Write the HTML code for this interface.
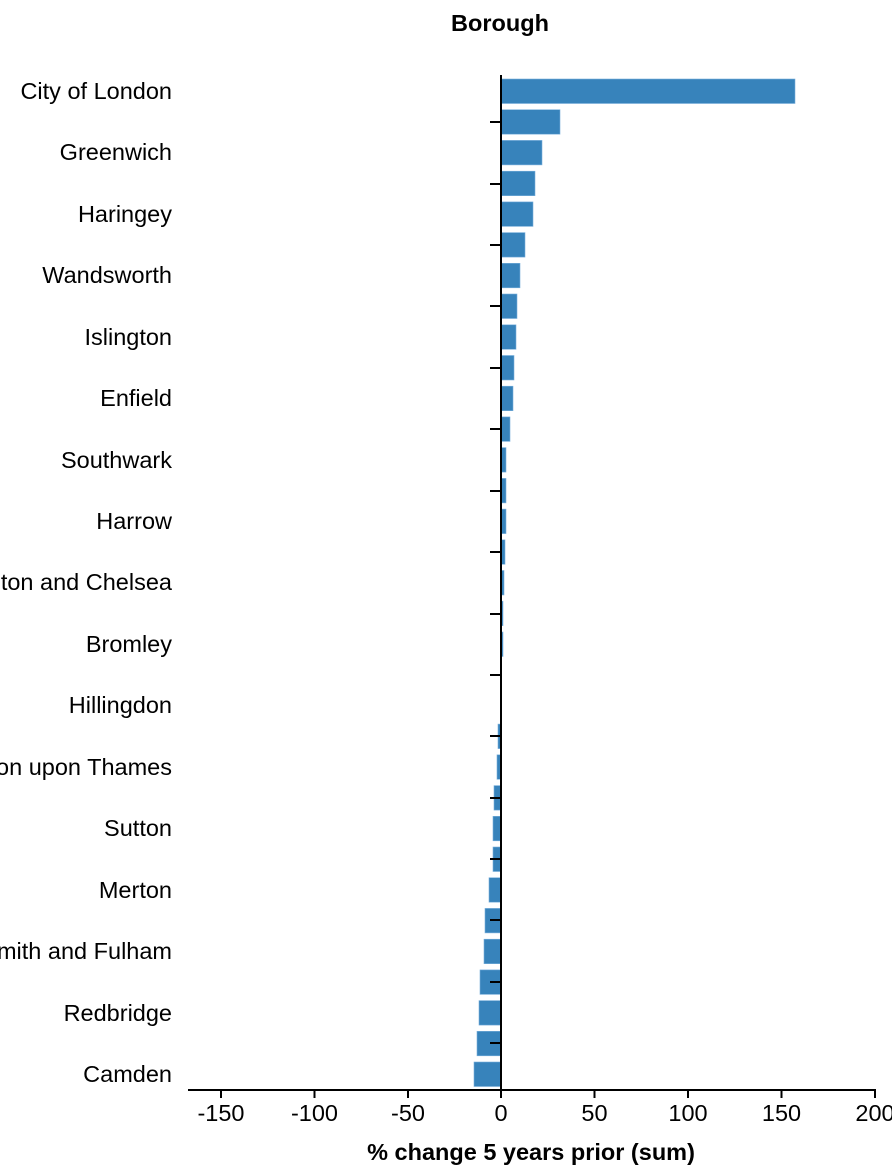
<!DOCTYPE html>
<html><head><meta charset="utf-8"><style>
html,body{margin:0;padding:0;background:#fff;}
svg{display:block;font-family:"Liberation Sans",Arial,sans-serif;}
</style></head><body>
<svg width="892" height="1172" xmlns="http://www.w3.org/2000/svg">
<text x="500" y="31" text-anchor="middle" font-size="23.5" font-weight="bold">Borough</text>
<g fill="#3783bb" stroke="#7ab0dc" stroke-width="0.6">
<rect x="501" y="79.0" width="294" height="24.5"/>
<rect x="501" y="109.7" width="59" height="24.5"/>
<rect x="501" y="140.4" width="41" height="24.5"/>
<rect x="501" y="171.2" width="34" height="24.5"/>
<rect x="501" y="201.9" width="32" height="24.5"/>
<rect x="501" y="232.6" width="24" height="24.5"/>
<rect x="501" y="263.3" width="19" height="24.5"/>
<rect x="501" y="294.0" width="16" height="24.5"/>
<rect x="501" y="324.8" width="15" height="24.5"/>
<rect x="501" y="355.5" width="13" height="24.5"/>
<rect x="501" y="386.2" width="12" height="24.5"/>
<rect x="501" y="416.9" width="9" height="24.5"/>
<rect x="501" y="447.6" width="5" height="24.5"/>
<rect x="501" y="478.4" width="5" height="24.5"/>
<rect x="501" y="509.1" width="5" height="24.5"/>
<rect x="501" y="539.8" width="4" height="24.5"/>
<rect x="501" y="570.5" width="3" height="24.5"/>
<rect x="501" y="601.2" width="2" height="24.5"/>
<rect x="501" y="632.0" width="2" height="24.5"/>
<rect x="498" y="724.1" width="3" height="24.5"/>
<rect x="497" y="754.8" width="4" height="24.5"/>
<rect x="494" y="785.6" width="7" height="24.5"/>
<rect x="493" y="816.3" width="8" height="24.5"/>
<rect x="493" y="847.0" width="8" height="24.5"/>
<rect x="489" y="877.7" width="12" height="24.5"/>
<rect x="485" y="908.4" width="16" height="24.5"/>
<rect x="484" y="939.2" width="17" height="24.5"/>
<rect x="480" y="969.9" width="21" height="24.5"/>
<rect x="479" y="1000.6" width="22" height="24.5"/>
<rect x="477" y="1031.3" width="24" height="24.5"/>
<rect x="474" y="1062.0" width="27" height="24.5"/>
</g>
<g stroke="#000" stroke-width="2">
<line x1="501" y1="75" x2="501" y2="1091"/>
<line x1="188" y1="1090" x2="876" y2="1090"/>
<line x1="490" y1="122" x2="501" y2="122"/><line x1="490" y1="184" x2="501" y2="184"/>
<line x1="490" y1="245" x2="501" y2="245"/><line x1="490" y1="306" x2="501" y2="306"/>
<line x1="490" y1="368" x2="501" y2="368"/><line x1="490" y1="429" x2="501" y2="429"/>
<line x1="490" y1="491" x2="501" y2="491"/><line x1="490" y1="552" x2="501" y2="552"/>
<line x1="490" y1="614" x2="501" y2="614"/><line x1="490" y1="675" x2="501" y2="675"/>
<line x1="490" y1="736" x2="501" y2="736"/><line x1="490" y1="798" x2="501" y2="798"/>
<line x1="490" y1="859" x2="501" y2="859"/><line x1="490" y1="920" x2="501" y2="920"/>
<line x1="490" y1="982" x2="501" y2="982"/><line x1="490" y1="1043" x2="501" y2="1043"/>
<line x1="221" y1="1090" x2="221" y2="1098"/><line x1="314.5" y1="1090" x2="314.5" y2="1098"/>
<line x1="408" y1="1090" x2="408" y2="1098"/><line x1="501" y1="1090" x2="501" y2="1098"/>
<line x1="594.5" y1="1090" x2="594.5" y2="1098"/><line x1="688" y1="1090" x2="688" y2="1098"/>
<line x1="781.5" y1="1090" x2="781.5" y2="1098"/><line x1="875" y1="1090" x2="875" y2="1098"/>
</g>
<g font-size="23.5" text-anchor="middle">
<text x="221" y="1121">-150</text><text x="314.5" y="1121">-100</text><text x="408" y="1121">-50</text>
<text x="501" y="1121">0</text><text x="594.5" y="1121">50</text><text x="688" y="1121">100</text>
<text x="781.5" y="1121">150</text><text x="875" y="1121">200</text>
</g>
<text x="531" y="1160" text-anchor="middle" font-size="23.5" font-weight="bold">% change 5 years prior (sum)</text>
<g font-size="23.5" text-anchor="end">
<text x="172" y="99">City of London</text>
<text x="172" y="160">Greenwich</text>
<text x="172" y="222">Haringey</text>
<text x="172" y="283">Wandsworth</text>
<text x="172" y="345">Islington</text>
<text x="172" y="406">Enfield</text>
<text x="172" y="468">Southwark</text>
<text x="172" y="529">Harrow</text>
<text x="172" y="590">Kensington and Chelsea</text>
<text x="172" y="652">Bromley</text>
<text x="172" y="713">Hillingdon</text>
<text x="172" y="775">Kingston upon Thames</text>
<text x="172" y="836">Sutton</text>
<text x="172" y="898">Merton</text>
<text x="172" y="959">Hammersmith and Fulham</text>
<text x="172" y="1021">Redbridge</text>
<text x="172" y="1082">Camden</text>
</g>
</svg>
</body></html>
